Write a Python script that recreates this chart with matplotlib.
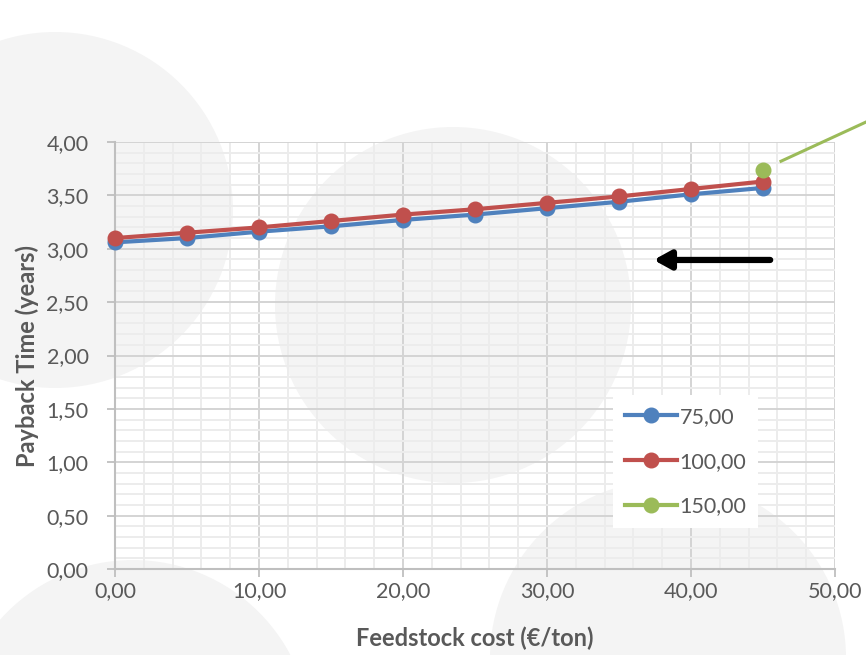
import matplotlib
matplotlib.use("Agg")
import matplotlib.pyplot as plt
from matplotlib.patches import Circle
from matplotlib.ticker import MultipleLocator, FuncFormatter

plt.rcParams["font.family"] = ["Lato", "DejaVu Sans"]

# feedstock cost (€/ton) and payback time (years) per series
FEED_COST = [0, 5, 10, 15, 20, 25, 30, 35, 40, 45]
PAYBACK_75 = [3.06, 3.10, 3.16, 3.21, 3.27, 3.32, 3.38, 3.44, 3.51, 3.57]
PAYBACK_100 = [3.10, 3.15, 3.20, 3.26, 3.32, 3.37, 3.43, 3.49, 3.56, 3.63]
FEED_COST_150 = [45]
PAYBACK_150 = [3.74]

SERIES = [
    ("75,00", FEED_COST, PAYBACK_75, "#4F81BD"),
    ("100,00", FEED_COST, PAYBACK_100, "#C0504D"),
    ("150,00", FEED_COST_150, PAYBACK_150, "#9BBB59"),
]

TEXT = "#595959"

fig = plt.figure(figsize=(8.66, 6.55), dpi=100)
fig.patch.set_facecolor("white")

# decorative grey discs in the background (pixel space)
bg = fig.add_axes([0, 0, 1, 1], zorder=0)
bg.set_xlim(0, 866)
bg.set_ylim(655, 0)
bg.axis("off")
for cx, cy in [(55, 210), (453, 305), (668, 658), (133, 738)]:
    bg.add_patch(Circle((cx, cy), 178, facecolor="#f4f4f4", edgecolor="none"))

ax = fig.add_axes([0.1328, 0.1313, 0.8314, 0.6519], zorder=1)
ax.set_facecolor("none")
ax.set_xlim(0, 50)
ax.set_ylim(0, 4)

ax.xaxis.set_major_locator(MultipleLocator(10))
ax.xaxis.set_minor_locator(MultipleLocator(2))
ax.yaxis.set_major_locator(MultipleLocator(0.5))
ax.yaxis.set_minor_locator(MultipleLocator(0.1))
comma = FuncFormatter(lambda v, _: f"{v:.2f}".replace(".", ","))
ax.xaxis.set_major_formatter(comma)
ax.yaxis.set_major_formatter(comma)

ax.grid(which="minor", color="#ececec", linewidth=1.4, zorder=0)
ax.grid(which="major", color="#d4d4d4", linewidth=1.4, zorder=0)
ax.set_axisbelow(True)

for side in ("top", "right"):
    ax.spines[side].set_visible(False)
for side in ("left", "bottom"):
    ax.spines[side].set_color("#bfbfbf")
    ax.spines[side].set_linewidth(1.5)

ax.tick_params(which="major", length=6, width=1.3, color="#bfbfbf",
               labelcolor=TEXT, labelsize=15.5)
ax.tick_params(which="minor", length=0)
ax.tick_params(axis="y", pad=13)
ax.tick_params(axis="x", pad=3)

for label, xs, ys, color in SERIES:
    ax.plot(xs, ys, color=color, linewidth=3.0, marker="o", markersize=10.5,
            markeredgecolor=color, label=label, zorder=3, clip_on=False)

# callout line leaving the last 150,00 point
ax.plot([46.25, 52.2], [3.82, 4.19], color="#9BBB59", linewidth=2.2,
        clip_on=False, zorder=3)

# black arrow pointing left
ax.annotate("", xy=(37.4, 2.895), xytext=(45.5, 2.895),
            arrowprops=dict(arrowstyle="-|>,head_length=1.0,head_width=0.55",
                            color="black", linewidth=4.5, shrinkA=0, shrinkB=0),
            zorder=4)

ax.set_xlabel("Feedstock cost (€/ton)", fontsize=17, fontweight="bold",
              color=TEXT, labelpad=18)
ax.set_ylabel("Payback Time (years)", fontsize=17, fontweight="bold",
              color=TEXT, labelpad=5)

leg = ax.legend(loc="upper left", bbox_to_anchor=(613 / 866, 1 - 395 / 655),
                bbox_transform=fig.transFigure, frameon=True, fancybox=False,
                framealpha=1, facecolor="white", edgecolor="none",
                fontsize=15.5, handlelength=2.4, handletextpad=0.15,
                labelspacing=1.15, borderpad=0.55, borderaxespad=0)
for t in leg.get_texts():
    t.set_color(TEXT)

fig.savefig("out.png", dpi=100, facecolor="white")
